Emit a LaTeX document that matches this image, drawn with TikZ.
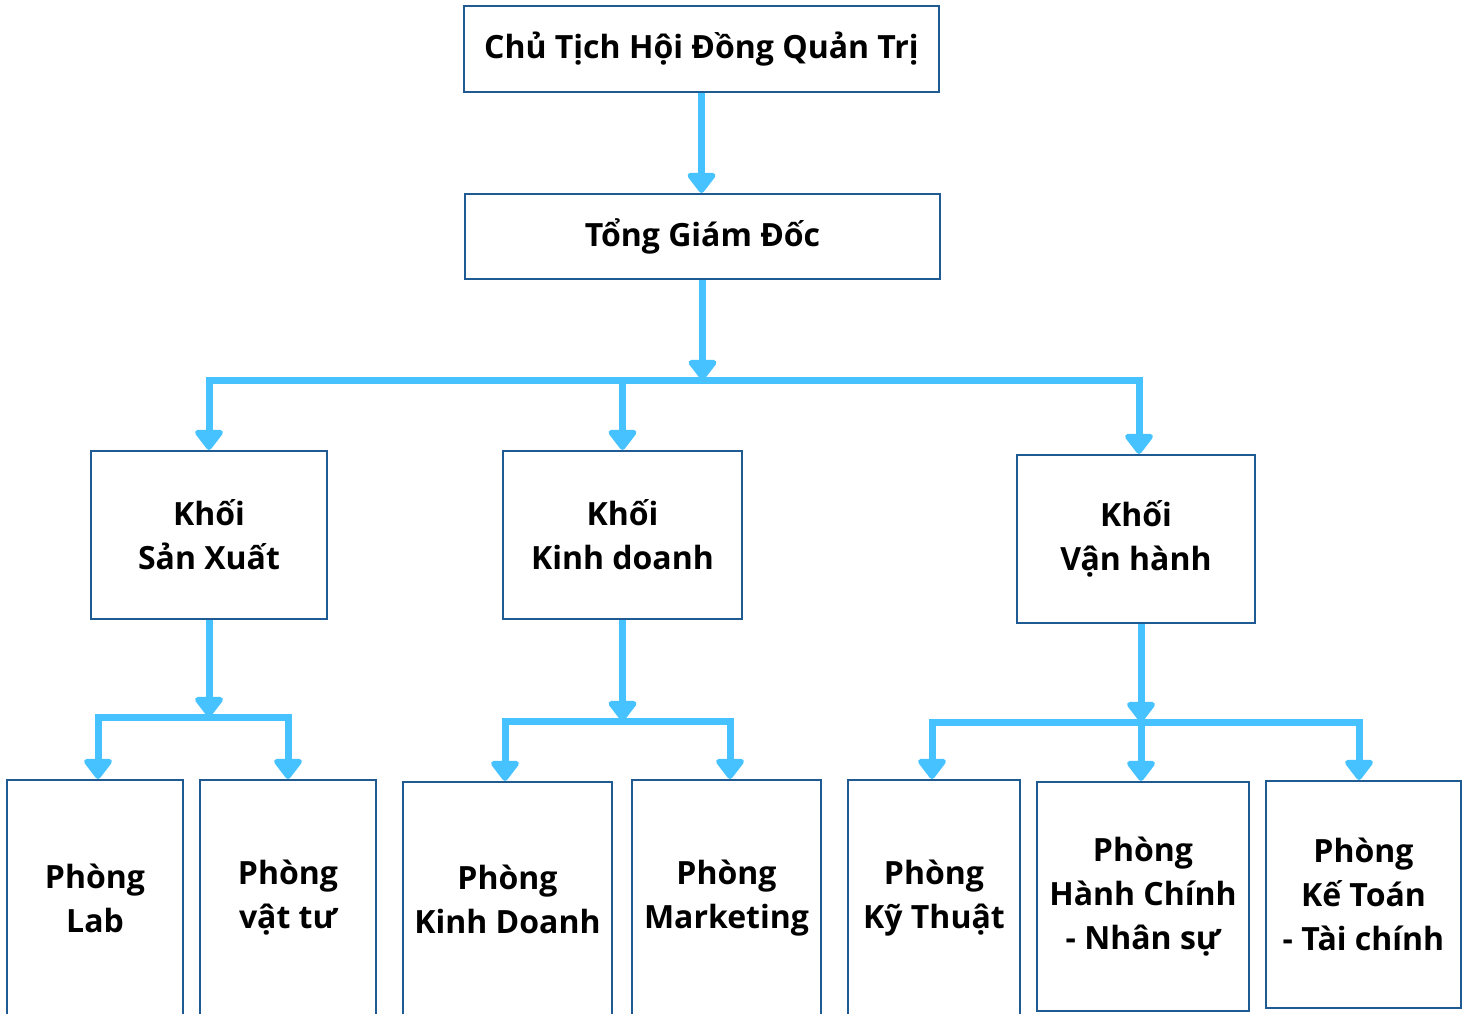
\documentclass[tikz,border=0pt]{standalone}
\usepackage{fontspec}
\setmainfont{Open Sans}
\usetikzlibrary{arrows.meta}
\definecolor{boxblue}{HTML}{1F5A93}
\definecolor{linkblue}{HTML}{45C2FF}
\begin{document}
\begin{tikzpicture}[x=1pt,y=-1pt,
  box/.style={draw=boxblue, line width=2.2pt, fill=white, inner sep=0pt, align=center,
    font=\fontsize{32}{44}\selectfont\bfseries, text=black},
  link/.style={draw=linkblue, line width=7pt, line join=miter,
    -{Triangle[width=32pt,length=22pt,round]}}
]
\clip (0,0) rectangle (1465,1013);
\fill[white] (0,0) rectangle (1465,1013);

% level 0 and 1
\node[box, minimum width=475pt, minimum height=86pt] (ct) at (701.5,49) {Chủ Tịch Hội Đồng Quản Trị};
\node[box, minimum width=475pt, minimum height=85pt] (tgd) at (702.5,236.5) {Tổng Giám Đốc};

% level 2
\node[box, minimum width=236pt, minimum height=168pt] (sx) at (209,535) {Khối\\Sản Xuất};
\node[box, minimum width=239pt, minimum height=168pt] (kd) at (622.5,535) {Khối\\Kinh doanh};
\node[box, minimum width=238pt, minimum height=168pt] (vh) at (1136,539) {Khối\\Vận hành};

% level 3
\node[box, minimum width=176pt, minimum height=236pt] (lab) at (95,898) {Phòng\\Lab};
\node[box, minimum width=176pt, minimum height=236pt] (vt) at (288,898) {Phòng\\vật tư};
\node[box, minimum width=209pt, minimum height=234pt] (pkd) at (507.5,899) {Phòng\\Kinh Doanh};
\node[box, minimum width=189pt, minimum height=236pt] (mk) at (726.5,898) {Phòng\\Marketing};
\node[box, minimum width=172pt, minimum height=236pt] (kt) at (934,898) {Phòng\\Kỹ Thuật};
\node[box, minimum width=212pt, minimum height=229pt] (hc) at (1143,896.5) {Phòng\\Hành Chính\\- Nhân sự};
\node[box, minimum width=195pt, minimum height=227pt] (kto) at (1363.5,894.5) {Phòng\\Kế Toán\\- Tài chính};

% junctions
\coordinate (j1) at (702.5,380);
\coordinate (j2) at (209,717);
\coordinate (j3) at (622.5,721);
\coordinate (j4) at (1141,722);

% connectors
\draw[link] (ct.south) -- (ct.south |- tgd.north);
\draw[link] (tgd) -- (j1);
\draw[link] (j1) -| (sx.north);
\draw[link] (j1) -| (kd.north);
\draw[link] (j1) -| ([xshift=3pt]vh.north);

\draw[link] (sx) -- (j2);
\draw[link] (j2) -| ([xshift=3pt]lab.north);
\draw[link] (j2) -| (vt.north);

\draw[link] (kd) -- (j3);
\draw[link] (j3) -| ([xshift=-2.5pt]pkd.north);
\draw[link] (j3) -| ([xshift=3.5pt]mk.north);

\draw[link] (j4 |- vh.south) -- (j4);
\draw[link] (j4) -| ([xshift=-2pt]kt.north);
\draw[link] (j4) -- (hc.north -| j4);
\draw[link] (j4) -| ([xshift=-4.5pt]kto.north);
\end{tikzpicture}
\end{document}
